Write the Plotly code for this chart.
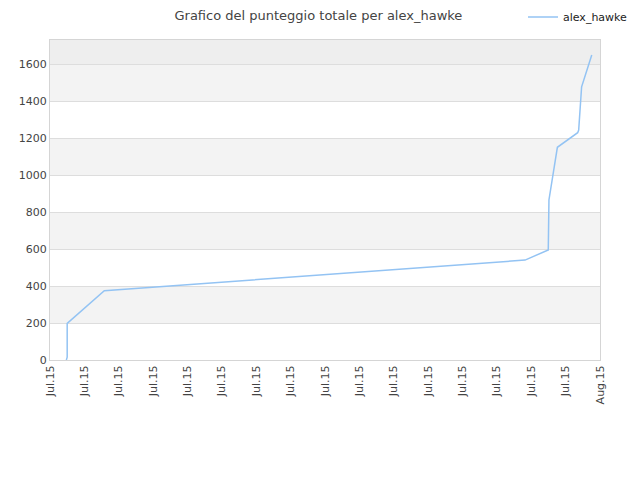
import plotly.graph_objects as go

# days since start of period, total score
days = [0.95, 1.0, 1.0, 3.16, 27.64, 28.99, 29.03, 29.52, 30.7, 30.76, 30.93, 31.52]
score = [0, 15, 198, 375, 540, 595, 865, 1150, 1229, 1243, 1477, 1649]

tick_days = list(range(0, 34, 2))
tick_labels = ["Jul.15"] * 16 + ["Aug.15"]

band_edges = [200, 400, 600, 800, 1000, 1200, 1400, 1600]

fig = go.Figure()
fig.add_trace(go.Scatter(x=days, y=score, mode="lines", name="alex_hawke",
                         line=dict(color="#93c3f3", width=1.5)))

# alternating horizontal bands
shapes = []
for i in range(0, len(band_edges) - 1, 2):
    shapes.append(dict(type="rect", xref="paper", yref="y", x0=0, x1=1,
                       y0=band_edges[i], y1=band_edges[i + 1],
                       fillcolor="#f3f3f3", line_width=0, layer="below"))
shapes.append(dict(type="rect", xref="paper", yref="y", x0=0, x1=1,
                   y0=band_edges[-1], y1=1730,
                   fillcolor="#eeeeee", line_width=0, layer="below"))

# page has an 8px body margin, so margins are shifted to compensate
fig.update_layout(
    width=640, height=480,
    margin=dict(l=42, r=48, t=32, b=128, autoexpand=False),
    paper_bgcolor="white", plot_bgcolor="white",
    font=dict(family="DejaVu Sans", size=11, color="#444"),
    title=dict(text="Grafico del punteggio totale per alex_hawke", x=0.485, xanchor="center",
               y=0.985, yanchor="middle", font=dict(size=13, color="#444")),
    shapes=shapes,
    showlegend=True,
    legend=dict(x=1.06, xanchor="right", y=1.072, yanchor="middle", bgcolor="rgba(0,0,0,0)",
                font=dict(size=11, color="#222"), itemwidth=30),
)
fig.update_xaxes(range=[0, 32], tickmode="array", tickvals=tick_days, ticktext=tick_labels,
                 tickangle=-90, showgrid=False, zeroline=False, showline=True,
                 linecolor="#d5d5d5", mirror=True, ticks="", automargin=False)
fig.update_yaxes(range=[0, 1730], tickmode="array", tickvals=[0, 200, 400, 600, 800, 1000, 1200, 1400, 1600],
                 showgrid=True, gridcolor="#dddddd", zeroline=False, showline=True,
                 linecolor="#d5d5d5", mirror=True, ticks="", automargin=False)

fig.write_html("out.html")
